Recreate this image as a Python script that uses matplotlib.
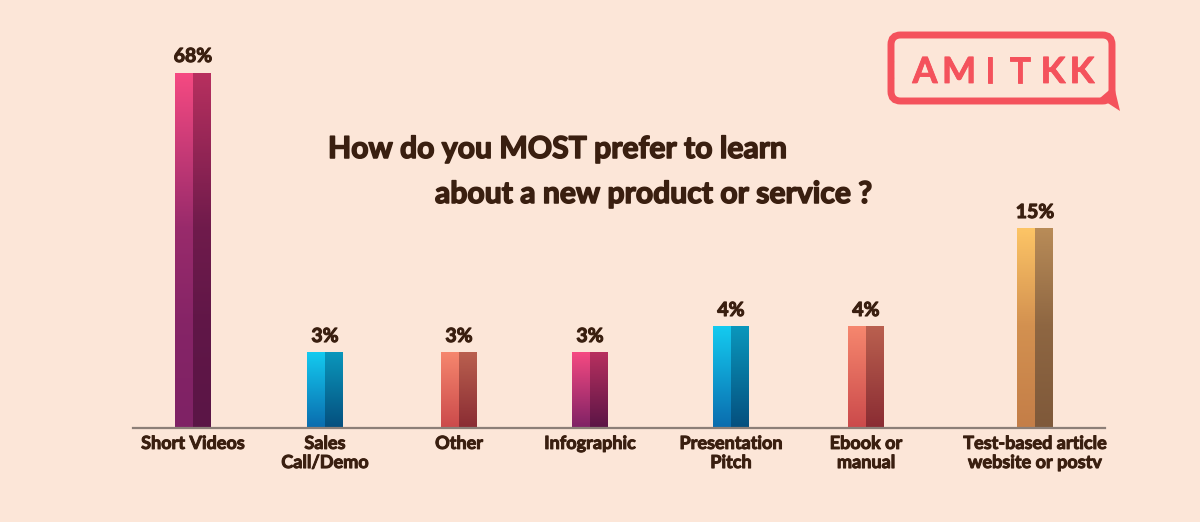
import numpy as np
import matplotlib
matplotlib.use("Agg")
import matplotlib.pyplot as plt
import matplotlib.patheffects as pe
from matplotlib.patches import FancyBboxPatch, Polygon
from matplotlib.colors import to_rgb

# ---------------- data ----------------
categories = ["Short Videos", "Sales\nCall/Demo", "Other", "Infographic",
              "Presentation\nPitch", "Ebook or\nmanual",
              "Test-based article\nwebsite or postv"]
values = [68, 3, 3, 3, 4, 4, 15]
value_labels = ["68%", "3%", "3%", "3%", "4%", "4%", "15%"]
title_line1 = "How do you MOST prefer to learn"
title_line2 = "about a new product or service ?"
logo_text = "AMITKK"

# ---------------- style / layout ----------------
W, H = 1200, 522
BG = "#fce6d8"
TXT = "#3a1f10"
FONT = ["Lato", "DejaVu Sans"]
plt.rcParams["font.family"] = FONT
WEIGHT = "bold"


def thick(lw, color=TXT):
    return [pe.withStroke(linewidth=lw, foreground=color)]


# bar centre positions (pixel-like x units) and width
xpos = [193, 325, 459, 590, 731, 866, 1035]
bar_w = 36

pink = (("#f64a82", "#7f2265"), ("#b8305f", "#5b1546"))
blue = (("#14cbf0", "#0a6cae"), ("#0a97bc", "#054f7e"))
salmon = (("#f6876e", "#cb4a4b"), ("#ba604f", "#8a2c33"))
gold = (("#fdc566", "#c47e48"), ("#b98c58", "#7f593a"))
bar_styles = [pink, blue, salmon, pink, blue, salmon, gold]

# visual (compressed) value scale used by the infographic
knots_v = np.array([0, 3, 4, 15, 68, 120])
knots_h = np.array([0, 76, 102, 200, 356, 480])


def fwd(v):
    return np.interp(v, knots_v, knots_h)


def inv(h):
    return np.interp(h, knots_h, knots_v)


fig = plt.figure(figsize=(W / 100, H / 100), dpi=100, facecolor=BG)

base_y = 428
ax = fig.add_axes([133 / W, (H - base_y) / H, (1105 - 133) / W, base_y / H])
ax.set_facecolor("none")
ax.set_yscale("function", functions=(fwd, inv))

bars = ax.bar(xpos, values, width=bar_w, color="none", edgecolor="none", zorder=2)


def grad(c_top, c_bot, n=128):
    t = np.linspace(0, 1, n)[:, None]
    a = np.array(to_rgb(c_top))
    b = np.array(to_rgb(c_bot))
    return (a * (1 - t) + b * t)[:, None, :]


for bar, st in zip(bars, bar_styles):
    x0 = bar.get_x()
    w = bar.get_width()
    h = bar.get_height()
    (lt, lb), (rt, rb) = st
    ax.imshow(grad(lt, lb), extent=[x0, x0 + w / 2, 0, h], origin="upper",
              aspect="auto", interpolation="bilinear", zorder=2)
    ax.imshow(grad(rt, rb), extent=[x0 + w / 2, x0 + w, 0, h], origin="upper",
              aspect="auto", interpolation="bilinear", zorder=2)

for bar, lab in zip(bars, value_labels):
    ax.annotate(lab, (bar.get_x() + bar.get_width() / 2, bar.get_height()),
                xytext=(0, 7.2), textcoords="offset points", ha="center",
                va="baseline", fontsize=14, fontweight=WEIGHT, color=TXT,
                path_effects=thick(0.8))

ax.set_xlim(133, 1105)
ax.set_ylim(0, inv(base_y))

for s in ["top", "right", "left"]:
    ax.spines[s].set_visible(False)
ax.spines["bottom"].set_color("#8c7f78")
ax.spines["bottom"].set_linewidth(1.6)
ax.spines["bottom"].set_zorder(3)
ax.set_yticks([])
ax.set_xticks(xpos)
ax.set_xticklabels(categories, fontsize=13, fontweight=WEIGHT, color=TXT,
                   linespacing=1.15)
for t in ax.get_xticklabels():
    t.set_path_effects(thick(0.7))
ax.tick_params(axis="x", length=0, pad=5)

# title
fig.text(328 / W, 1 - 158 / H, title_line1, fontsize=21.7, fontweight=WEIGHT,
         color=TXT, ha="left", va="baseline", path_effects=thick(1.1))
fig.text(435 / W, 1 - 203 / H, title_line2, fontsize=21.7, fontweight=WEIGHT,
         color=TXT, ha="left", va="baseline", path_effects=thick(1.1))

# logo
red = "#f4525c"
lx0, ly0, lx1, ly1 = 891, 35, 1112, 101
box = FancyBboxPatch((lx0 / W, 1 - ly1 / H), (lx1 - lx0) / W, (ly1 - ly0) / H,
                     boxstyle="round,pad=0,rounding_size=0.008",
                     transform=fig.transFigure, facecolor="none",
                     edgecolor=red, linewidth=5.0, mutation_aspect=W / H)
fig.patches.append(box)
tail = Polygon([(1100 / W, 1 - 98 / H), (1114 / W, 1 - 86 / H),
                (1120 / W, 1 - 111 / H)], closed=True,
               transform=fig.transFigure, facecolor=red, edgecolor="none")
fig.patches.append(tail)
letter_x = [925, 959, 990, 1020, 1053, 1082]
for ch, lxp in zip(logo_text, letter_x):
    fig.text(lxp / W, 1 - 83 / H, ch, fontsize=26, fontweight="bold",
             color=red, ha="center", va="baseline", path_effects=thick(0.6, red))
# braces on the sides of the logo frame
fig.text(lx0 / W, 1 - 70 / H, "{", fontsize=13, color=red, ha="center",
         va="center", fontweight="bold")
fig.text(lx1 / W, 1 - 70 / H, "}", fontsize=13, color=red, ha="center",
         va="center", fontweight="bold")

fig.savefig("out.png", dpi=100, facecolor=BG)
